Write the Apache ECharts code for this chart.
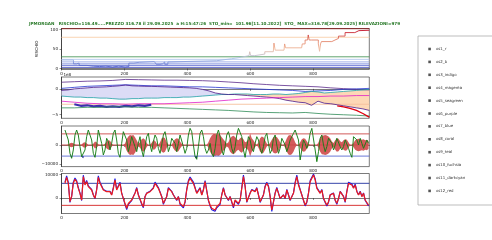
<!DOCTYPE html>
<html><head><meta charset="utf-8">
<script src="https://cdn.jsdelivr.net/npm/echarts@6.0.0/dist/echarts.min.js"></script>
<style>html,body{margin:0;padding:0;background:#fff}#c{width:492px;height:240px}</style>
</head><body><div id="c"></div>
<script>
const TITLE = 'JPMORGAN   RISCHIO=116.49.....PREZZO 316.78 il 29.09.2025  a H:15:47:26  STO_min=  101.96[11.10.2022]  STO_ MAX=316.78[29.09.2025] RILEVAZIONI=979';
const X_MAX = 978;
const X_TICKS = [0, 200, 400, 600, 800];
const LEGEND_NAMES = ['os1_r','os2_b','os3_indigo','os4_magenta','os5_seagreen','os6_purple','os7_blue','os8_coral','os9_teal','os10_fuchsia','os11_darkcyan','os12_red'];

// ---- panel 1 : RISCHIO
const P1_TICKS = [0, 50, 100];
const P1_LEVELS = [102, 80, 30, 23.5, 17, 12, 8, 3];
const P1_LEVEL_COLORS = ['#8b1a1a','#f8cfaa','#4f9a5f','#b4c8ee','#9aaae6','#8190dc','#6470d2','#4a52c2'];
const P1_STEP_X = [0,30,38,48,56,81,101,121,141,162,182,202,214,230,247,295,301,313,321,328,338,348,493,495,540,572,596,598,601,614,646,673,675,679,707,709,712,763,765,774,782,784,787,795,816,820,823,826,859,869,880,901,932,945,978];
const P1_STEP_Y = [22,22,12,14,8,6,5,6,4,6,4,5,14,16,18,18,11,12,17,11,17,20,20,25,29,33,33,43,33,37,43,45,65,47,47,63,53,53,63,73,73,86,73,73,63,44,63,69,73,77,83,92,97,98,98];

// ---- panel 2 (units of 1e8)
const P2_TICKS = [-5, 0];
const P2_STEP = 40.75;
const OS6_PURPLE = [1.3,1.4,1.5,1.55,1.65,1.85,1.8,1.75,1.7,1.7,1.65,1.6,1.5,1.35,1.2,1.0,0.85,0.7,0.6,0.5,0.4,0.2,0.05,-0.1,-0.2];
const OS7_BLUE = [0.1,0.3,0.5,0.6,0.7,0.8,0.7,0.6,0.6,0.5,0.4,0.4,0.3,0.2,0.1,0.0,-0.1,-0.2,-0.3,-0.5,-0.4,-0.3,-0.1,0.0,0.1];
const OS4_MAGENTA = [-2.4,-2.6,-2.8,-2.9,-2.9,-3.0,-2.9,-2.9,-2.9,-2.8,-2.7,-2.6,-2.4,-2.2,-2.0,-1.9,-1.8,-1.7,-1.6,-1.5,-1.5,-1.4,-1.4,-1.3,-1.3];
const OS5_SEAGREEN = [-3.7,-3.7,-3.6,-3.6,-3.5,-3.5,-3.6,-3.6,-3.7,-3.8,-3.9,-4.0,-4.1,-4.2,-4.35,-4.5,-4.6,-4.65,-4.7,-4.6,-4.8,-4.95,-5.05,-5.15,-5.3];
const P2F_STEP = 20.375;
const OS3_INDIGO = [-0.3,-0.2,0.0,0.1,0.2,0.3,0.35,0.4,0.5,0.6,0.75,0.6,0.55,0.5,0.5,0.45,0.4,0.35,0.3,0.25,0.2,0.1,-0.1,-0.4,-0.8,-1.0,-1.1,-1.1,-1.2,-1.3,-1.4,-1.5,-1.6,-1.7,-1.9,-2.2,-2.4,-2.6,-2.7,-3.2,-2.4,-2.8,-2.9,-3.1,-3.3,-3.5,-3.7,-3.9,-4.2];
const OS9_TEAL = [-1.4,-1.5,-1.6,-1.6,-1.7,-1.7,-1.8,-1.8,-1.9,-2.0,-2.0,-1.9,-1.9,-1.8,-1.8,-1.8,-1.7,-1.7,-1.7,-1.6,-1.6,-1.5,-1.4,-1.3,-1.2,-1.1,-1.1,-1.0,-1.0,-1.0,-1.1,-1.1,-1.1,-1.0,-1.0,-1.1,-1.0,-0.9,-0.7,-0.5,-0.6,-0.8,-0.7,-0.6,-0.5,-0.4,-0.3,-0.2,-0.1];
const OS2_B_START = 40.75;
const OS2_B = [-3.0,-3.3,-3.2,-3.4,-3.3,-3.5,-3.4,-3.5,-3.3,-3.4,-3.2,-3.3,-3.1];
const OS12_RED_START = 876;
const OS12_RED = [-3.3,-3.5,-3.8,-4.2,-4.8,-5.5];
const OS8_CORAL_LEVEL = -3.0;

// ---- panels 3 and 4 share a sampling grid
const P34_START = 11;
const P34_STEP = 5.3;
const P3_TICKS = [-10000, 0, 10000];
const P3_LEVELS = [5800, 0, -5800];
const P3_LEVEL_COLORS = ['#cc4848','#cc4848','#5a6ad2'];
const P3_DIP_LEVEL = -5800;
const P3_DIP_ZONES = [{from:730, to:830, color:'#66ee33'}, {from:880, to:940, color:'#22d4dc'}];
const P3_DIP_DEFAULT = '#0a0a80';
const GREEN3 = [
7830,6960,2610,-4350,-6960,-2610,5220,7830,5220,-870,
-6090,-6960,-2610,4350,7830,6960,2610,-4350,-6440,-870,
7830,6960,870,-5220,-2610,3480,1740,-2610,870,6090,
7830,2610,-4350,-6440,870,6960,7830,2610,-3480,0,
4350,3480,-870,-3480,870,4350,-2610,-6090,-870,4350,
6090,0,-3480,1740,5220,3480,-1740,-4350,0,5220,
6960,2610,-3480,-870,3480,4350,870,-3480,870,5220,
4350,-870,-4350,-1740,5220,8700,6960,0,-6090,-7480,
-870,6090,7830,4350,-1740,-4350,-2610,870,-4350,-6090,
-1740,5220,7830,4350,-2610,-5220,-870,5220,6960,3480,
-1740,-4350,-870,5220,8700,
7830,4350,-2610,-6440,-870,4350,2610,-1740,-3480,870,
4350,2610,-1740,-4350,-870,4350,6090,870,-4350,-2610,
3480,5220,0,-4350,-1740,3480,4350,0,-3480,-870,
2610,4350,6090,7830,8700,2610,-7830,-2610,2610,870,
-1740,870,6090,8700,7830,-2610,-8700,-3480,3480,5220,
0,-3480,-870,3480,4350,870,-2610,0,3480,2610,
-870,-2610,-870,2610,2610,-1740,-4350,-6440,4350,5220,
2610,0,3480,870,-1740,-870,2610,870];
const BURST3 = [
0,0,300,900,1200,900,300,0,0,0,
300,1200,1500,900,0,0,0,700,1800,1500,
300,0,0,0,600,1800,2500,2200,800,0,
0,0,0,0,0,0,800,3000,4500,5200,
5000,5200,4000,2500,800,1500,3000,3500,2800,1000,
0,0,1200,2500,2200,800,0,1500,3500,4000,
3500,1500,0,0,0,1800,3000,3500,3200,1800,
600,0,0,0,0,0,0,0,0,0,
0,0,0,0,0,0,1500,3500,5000,5800,
5800,5500,5800,5200,4000,3000,1800,800,1500,3500,
4500,4800,4200,3000,2500,
3500,4000,3000,1500,1800,3000,6000,3500,2500,1000,
0,1500,3500,4500,4000,2500,800,0,1200,2800,
4000,4500,4200,3000,1500,0,0,1500,3500,5000,
5200,4800,3500,1500,0,0,1500,3000,3500,3200,
2000,600,0,0,0,0,0,1500,3500,4800,
5000,5200,5000,4500,3500,1800,1000,2500,3500,3200,
2000,1500,2500,3000,2800,1500,0,0,1200,2500,
3000,3200,3000,2800,3000,2500,2800,2000];

const P4_TICKS = [0, 10000];
const P4_LEVELS = [6300, -3150];
const P4_LEVEL_COLORS = ['#1f2f9f','#d42020'];
const RED4 = [
6290,8870,6290,-1570,570,6290,8010,7010,4150,2000,
-860,9150,5580,7010,4860,5580,3430,1290,-140,3430,
8870,6290,5580,3430,4150,2720,2000,2720,1290,4150,
7720,3430,2720,6290,2000,-140,-2290,-4430,-2290,-3000,
-860,570,2000,4150,1290,2000,-2290,-3720,570,2000,
1290,2720,2720,4150,6290,5580,4150,4860,570,-2290,
-1570,570,4150,3430,2720,1290,2000,-860,570,-2290,
-3000,-3720,-1570,3430,7010,8440,7720,6290,4150,2000,
2720,4150,1290,3430,7010,7010,-860,-3000,-4430,-3720,
-5150,-3720,-4430,-2290,1290,4150,1290,570,-860,570,
-1570,-3720,-860,-140,-2290,
-860,4150,9150,4860,-1570,-860,2000,3430,4150,2720,
4150,1290,-1570,-140,1290,4860,6290,4860,570,-5150,
-1570,2000,4150,3430,-140,-860,1290,-140,3430,1290,
-860,-140,2000,6290,9150,5580,3430,1290,-860,-3000,
-1570,2000,7010,7720,9870,7720,4150,4860,2000,3430,
-140,-1570,-3000,-1570,1290,570,2000,-860,-2290,-140,
2720,3430,570,-1570,2720,6290,7010,5580,4150,5580,
2720,1290,2720,570,2000,-860,-140,-3000];
const BLUE4 = [
6800,9500,6800,-1900,700,6800,8600,7500,4500,2200,
-1100,9800,6000,7500,5200,6000,3700,1400,-300,3700,
9500,6800,6000,3700,4500,2900,2200,2900,1400,4500,
8300,3700,2900,6800,2200,-300,-2700,-5000,-2700,-3400,
-1100,700,2200,4500,1400,2200,-2700,-4200,700,2200,
1400,2900,2900,4500,6800,6000,4500,5200,700,-2700,
-1900,700,4500,3700,2900,1400,2200,-1100,700,-2700,
-3400,-4200,-1900,3700,7500,9000,8300,6800,4500,2200,
2900,4500,1400,3700,7500,7500,-1100,-3400,-5000,-4200,
-5700,-4200,-5000,-2700,1400,4500,1400,700,-1100,700,
-1900,-4200,-1100,-300,-2700,
-1100,4500,9800,5200,-1900,-1100,2200,3700,4500,2900,
4500,1400,-1900,-300,1400,5200,6800,5200,700,-5800,
-1900,2200,4500,3700,-300,-1100,1400,-300,3700,1400,
-1100,-300,2200,6800,9800,6000,3700,1400,-1100,-3400,
-1900,2200,7500,8300,10300,8300,4500,5200,2200,3700,
-300,-1900,-3400,-1900,1400,700,2200,-1100,-2700,-300,
2900,3700,700,-1900,2900,6800,7500,6000,4500,6000,
2900,1400,2900,700,2200,-1100,-300,-3400];

// ---------------------------------------------------------------
const FONT = 'DejaVu Sans';
const seq = (start, step, arr) => arr.map((v, i) => [start + i * step, v]);
const flat = v => [[0, v], [X_MAX, v]];
const minus = v => String(v).replace('-', '\u2212');

const GRIDS = [
  {left: 61.5, top: 28.5, width: 307.8, height: 41},
  {left: 61.5, top: 77, width: 307.8, height: 41.3},
  {left: 61.5, top: 126, width: 307.8, height: 40.6},
  {left: 61.5, top: 173.5, width: 307.8, height: 40}
].map(g => Object.assign(g, {show: true, borderColor: '#222', borderWidth: 0.6, backgroundColor: 'transparent'}));

const xAxes = GRIDS.map((g, i) => ({
  type: 'value', gridIndex: i, min: 0, max: X_MAX,
  axisLine: {show: true, lineStyle: {color: '#222', width: 0.6}},
  axisTick: {show: true, length: 2, customValues: X_TICKS, lineStyle: {color: '#222', width: 0.5}},
  axisLabel: {customValues: X_TICKS, fontSize: 4.1, margin: 2.5, color: '#222', fontFamily: FONT},
  splitLine: {show: false}
}));

function yAx(i, min, max, ticks, extra) {
  return Object.assign({
    type: 'value', gridIndex: i, min, max,
    axisLine: {show: true, lineStyle: {color: '#222', width: 0.6}},
    axisTick: {show: true, length: 2, customValues: ticks, lineStyle: {color: '#222', width: 0.5}},
    axisLabel: {customValues: ticks, fontSize: 4.1, margin: 3.5, color: '#222', fontFamily: FONT, formatter: minus},
    splitLine: {show: false}
  }, extra || {});
}
const yAxes = [
  yAx(0, -2.5, 102.5, P1_TICKS, {name: 'RISCHIO', nameLocation: 'middle', nameGap: 19, nameRotate: 90,
      nameTextStyle: {fontSize: 4.1, color: '#222', fontFamily: FONT}}),
  yAx(1, -5.74, 2.32, P2_TICKS, {name: '1e8', nameLocation: 'end', nameGap: 0.5,
      nameTextStyle: {fontSize: 4.1, color: '#222', fontFamily: FONT, align: 'left', verticalAlign: 'bottom', padding: [0, 0, 0, 2]}}),
  yAx(2, -11280, 9920, P3_TICKS),
  yAx(3, -6650, 10515, P4_TICKS)
];

const S = [];
function addLine(name, gi, data, color, width, extra) {
  S.push(Object.assign({
    type: 'line', name, xAxisIndex: gi, yAxisIndex: gi, data,
    showSymbol: false, symbol: 'none', silent: true, animation: false,
    lineStyle: {color, width}, itemStyle: {color}
  }, extra || {}));
}

// panel 1 (the RISCHIO step line takes its colour from the visualMap)
S.push({type: 'line', name: 'rischio', xAxisIndex: 0, yAxisIndex: 0,
  data: P1_STEP_X.map((x, i) => [x, P1_STEP_Y[i]]), step: 'end', z: 5,
  showSymbol: false, symbol: 'none', silent: true, animation: false, lineStyle: {width: 0.9}});
P1_LEVELS.forEach((v, i) => addLine('lv1_' + i, 0, flat(v), P1_LEVEL_COLORS[i], 0.9));

// panel 2 fill between indigo and teal
S.push({
  type: 'custom', xAxisIndex: 1, yAxisIndex: 1, data: [[0, 0]], silent: true, animation: false, clip: true, z: 1,
  renderItem: (params, api) => {
    const lavTop = [], lavBot = [], peaTop = [], peaBot = [];
    OS3_INDIGO.forEach((a, i) => {
      const b = OS9_TEAL[i], x = i * P2F_STEP;
      lavTop.push(api.coord([x, Math.max(a, b)])); lavBot.push(api.coord([x, b]));
      peaTop.push(api.coord([x, b])); peaBot.push(api.coord([x, Math.min(a, b)]));
    });
    return {type: 'group', children: [
      {type: 'polygon', shape: {points: lavTop.concat(lavBot.reverse())}, style: {fill: '#dcdcf6'}},
      {type: 'polygon', shape: {points: peaTop.concat(peaBot.reverse())}, style: {fill: '#fdd8b6'}}
    ]};
  }
});
addLine('os8_coral', 1, flat(OS8_CORAL_LEVEL), '#f5bf9c', 0.9);
addLine('os6_purple', 1, seq(0, P2_STEP, OS6_PURPLE), '#5a2a8a', 0.8);
addLine('os7_blue', 1, seq(0, P2_STEP, OS7_BLUE), '#2434d0', 0.8);
addLine('os9_teal', 1, seq(0, P2F_STEP, OS9_TEAL), '#1f9fa6', 0.8);
addLine('os3_indigo', 1, seq(0, P2F_STEP, OS3_INDIGO), '#4b1a8a', 0.8);
addLine('os4_magenta', 1, seq(0, P2_STEP, OS4_MAGENTA), '#e020c8', 0.8);
addLine('os2_b', 1, seq(OS2_B_START, P2F_STEP, OS2_B), '#3c2fb0', 2.2);
addLine('os5_seagreen', 1, seq(0, P2_STEP, OS5_SEAGREEN), '#2e8b57', 0.8);
addLine('os12_red', 1, seq(OS12_RED_START, P2F_STEP, OS12_RED), '#e00010', 1.3);
addLine('os10_fuchsia', 1, [], '#ff00ff', 0.8);
addLine('os11_darkcyan', 1, [], '#008b8b', 0.8);

// panel 3
S.push({
  type: 'custom', xAxisIndex: 2, yAxisIndex: 2, data: [[0, 0]], silent: true, animation: false, clip: true, z: 1,
  renderItem: (params, api) => {
    const up = [], dn = [];
    BURST3.forEach((e, i) => {
      const x = P34_START + i * P34_STEP;
      up.push(api.coord([x, e])); dn.push(api.coord([x, -e]));
    });
    return {type: 'polygon', shape: {points: up.concat(dn.reverse())}, style: {fill: '#d35c5c'}};
  }
});
P3_LEVELS.forEach((v, i) => addLine('lv3_' + i, 2, flat(v), P3_LEVEL_COLORS[i], 0.9));
S.push({
  type: 'custom', xAxisIndex: 2, yAxisIndex: 2, data: [[0, 0]], silent: true, animation: false, clip: true, z: 3,
  renderItem: (params, api) => {
    const L = P3_DIP_LEVEL, children = [];
    let run = null, minX = 0, minY = 0;
    const colorAt = x => { const z = P3_DIP_ZONES.find(z => x >= z.from && x < z.to); return z ? z.color : P3_DIP_DEFAULT; };
    const close = () => {
      children.push({type: 'polygon', shape: {points: run.map(p => api.coord(p))}, style: {fill: colorAt(minX)}});
      run = null;
    };
    GREEN3.forEach((y, i) => {
      const x = P34_START + i * P34_STEP;
      const px = x - P34_STEP, py = i > 0 ? GREEN3[i - 1] : y;
      if (y < L) {
        if (!run) {
          run = [];
          const t = i > 0 ? (L - py) / (y - py) : 1;
          run.push([px + t * P34_STEP, L]);
          minX = x; minY = y;
        }
        if (y < minY) { minY = y; minX = x; }
        run.push([x, y]);
      } else if (run) {
        const t = (L - py) / (y - py);
        run.push([px + t * P34_STEP, L]);
        close();
      }
    });
    if (run) close();
    return {type: 'group', children};
  }
});
addLine('green3', 2, seq(P34_START, P34_STEP, GREEN3), '#177d17', 0.95, {z: 4});

// panel 4
P4_LEVELS.forEach((v, i) => addLine('lv4_' + i, 3, flat(v), P4_LEVEL_COLORS[i], 0.9));
addLine('blue4', 3, seq(P34_START, P34_STEP, BLUE4), '#1a1ae6', 1.1);
addLine('os1_r', 3, seq(P34_START, P34_STEP, RED4), '#ee1c1c', 1.2);

const chart = echarts.init(document.getElementById('c'), null, {renderer: 'canvas'});
chart.setOption({
  animation: false,
  backgroundColor: '#fff',
  title: {text: TITLE, left: 29, top: 21.7, padding: 0,
    textStyle: {fontSize: 4.15, fontWeight: 'bold', color: '#2a7a2a', fontFamily: FONT}},
  grid: GRIDS, xAxis: xAxes, yAxis: yAxes,
  visualMap: {type: 'continuous', show: false, seriesIndex: 0, dimension: 1, min: 0, max: 100,
    inRange: {color: ['#3a46c0', '#a9c2ea', '#f0b898', '#e07a62', '#c0001e']}},
  legend: {data: LEGEND_NAMES, orient: 'vertical', left: 428.3, top: 46.5, padding: 0,
    itemWidth: 2.6, itemHeight: 2.6, itemGap: 7.9, icon: 'rect', selectedMode: false,
    itemStyle: {color: '#555', borderWidth: 0},
    textStyle: {fontSize: 3.9, lineHeight: 5, color: '#333', fontFamily: FONT}},
  graphic: [{type: 'rect', shape: {x: 418, y: 36, width: 90, height: 169},
    style: {fill: 'none', stroke: '#a0a0a0', lineWidth: 0.7}, silent: true}],
  series: S
});
</script></body></html>
